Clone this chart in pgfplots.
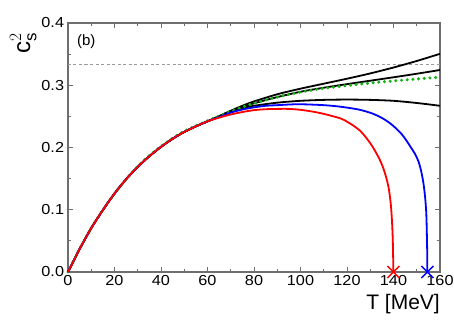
\documentclass[border=0pt]{standalone}
\usepackage{pgfplots}
\pgfplotsset{compat=1.18}
\usepackage{fontspec}
\setmainfont{Liberation Sans}
\definecolor{axgray}{RGB}{110,110,110}
\definecolor{mygreen}{RGB}{20,180,20}
\begin{document}
\begin{tikzpicture}
\begin{axis}[
  scale only axis, width=372pt, height=249pt,
  xmin=0, xmax=160, ymin=0, ymax=0.4,
  xtick={0,20,...,160}, ytick={0,0.1,...,0.4},
  minor x tick num=1, minor y tick num=1,
  tick align=inside, major tick length=5pt, minor tick length=3pt,
  axis line style={axgray, line width=1.4pt},
  every tick/.style={axgray, line width=1pt},
  /pgf/number format/assume math mode=true,
  yticklabel style={/pgf/number format/fixed, /pgf/number format/fixed zerofill, /pgf/number format/precision=1, font=\fontsize{14.5}{14.5}\selectfont, xscale=1.12},
  xticklabel style={font=\fontsize{14.5}{14.5}\selectfont, xscale=1.12},
  xlabel={T [MeV]},
  xlabel style={font=\fontsize{21}{21}\selectfont, at={(rel axis cs:1,0)}, anchor=north east, yshift=-22pt, inner sep=0pt},
  ylabel={c$_\mathrm{s}^{2}$},
  ylabel style={font=\fontsize{24}{24}\selectfont, at={(ticklabel cs:0.92)}, anchor=south, inner sep=1pt},
  clip=false,
  every axis plot post/.append style={tension=0.5},
]
\addplot[axgray!70, line width=0.6pt, dash pattern=on 3pt off 2.5pt] coordinates {(0,0.3333) (160,0.3333)};
% top black
\addplot[black, line width=1.8pt, smooth] coordinates {
(0,0) (2,0.0148) (5,0.037) (10,0.0705) (15,0.0995) (20,0.126) (25,0.149) (30,0.169) (35,0.186) (40,0.201) (45,0.214) (50,0.225) (55,0.234) (60,0.242)
(65,0.2505) (70,0.259) (75,0.267) (80,0.274) (90,0.2855) (100,0.2945) (110,0.3025) (120,0.3105) (130,0.319) (140,0.3285) (150,0.339) (160,0.3505)};
% middle black
\addplot[black, line width=1.8pt, smooth] coordinates {
(0,0) (2,0.0148) (5,0.037) (10,0.0705) (15,0.0995) (20,0.126) (25,0.149) (30,0.169) (35,0.186) (40,0.201) (45,0.214) (50,0.225) (55,0.234) (60,0.242)
(65,0.25) (70,0.258) (75,0.265) (80,0.271) (90,0.281) (100,0.2895) (110,0.296) (120,0.3018) (130,0.3073) (140,0.3128) (150,0.3185) (160,0.3245)};
% lower black
\addplot[black, line width=1.8pt, smooth] coordinates {
(0,0) (2,0.0148) (5,0.037) (10,0.0705) (15,0.0995) (20,0.126) (25,0.149) (30,0.169) (35,0.186) (40,0.201) (45,0.214) (50,0.225) (55,0.234) (60,0.242)
(65,0.2495) (70,0.2575) (75,0.263) (80,0.267) (90,0.272) (100,0.275) (110,0.2765) (120,0.277) (130,0.2765) (140,0.275) (150,0.2715) (160,0.267)};
% green dotted
\addplot[mygreen, line width=3.4pt, dash pattern=on 0pt off 5.7pt, line cap=round, smooth] coordinates {
(0,0) (2,0.0148) (5,0.037) (10,0.0705) (15,0.0995) (20,0.126) (25,0.149) (30,0.170) (35,0.187) (40,0.202) (45,0.215) (50,0.226) (55,0.235) (60,0.243)
(65,0.2505) (70,0.258) (75,0.265) (80,0.271) (90,0.281) (100,0.289) (110,0.295) (120,0.2995) (130,0.3035) (140,0.307) (150,0.310) (160,0.313)};
% blue
\addplot[blue, line width=1.8pt, smooth] coordinates {
(0,0) (2,0.0148) (5,0.037) (10,0.0705) (15,0.0995) (20,0.126) (25,0.149) (30,0.169) (35,0.186) (40,0.201) (45,0.214) (50,0.225) (55,0.234) (60,0.242)
(65,0.249) (70,0.256) (75,0.261) (80,0.2645) (85,0.267) (90,0.268) (95,0.269) (100,0.2695) (110,0.268) (117,0.2656) (125,0.261) (131,0.2545) (135,0.2475) (138.5,0.239) (141,0.231) (143.5,0.2215) (145.5,0.2115) (147.5,0.2) (149.2,0.19) (150.7,0.178) (151.9,0.162) (152.9,0.142) (153.6,0.12) (154.1,0.094) (154.35,0.06) (154.5,0.03) (154.55,0)};
% red
\addplot[red, line width=1.8pt, smooth] coordinates {
(0,0) (2,0.0148) (5,0.037) (10,0.0705) (15,0.0995) (20,0.126) (25,0.149) (30,0.169) (35,0.186) (40,0.201) (45,0.214) (50,0.225) (55,0.234) (60,0.242)
(65,0.248) (70,0.253) (75,0.257) (80,0.260) (85,0.2615) (90,0.262) (95,0.262) (100,0.2605) (105,0.2578) (110,0.254) (117,0.247) (120,0.2415) (123,0.2345) (125.6,0.227) (127,0.2215) (130,0.207) (132,0.195) (134,0.181) (135.5,0.168) (137,0.150) (138,0.133) (138.8,0.11) (139.3,0.085) (139.7,0.05) (139.95,0)};
\addplot[red, only marks, mark=x, mark size=8.5pt, line width=1.4pt] coordinates {(139.95,0)};
\addplot[blue, only marks, mark=x, mark size=8.5pt, line width=1.4pt] coordinates {(154.55,0)};
\node[font=\fontsize{15}{15}\selectfont, anchor=west, inner sep=0pt] at (axis cs:3.8,0.370) {(b)};
\end{axis}
\pgfresetboundingbox
\path (-68pt,-49pt) rectangle (386pt,272pt);
\end{tikzpicture}
\end{document}
